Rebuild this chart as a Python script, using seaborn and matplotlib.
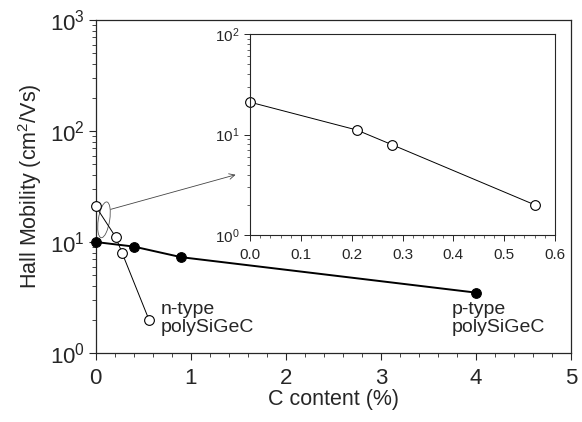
import seaborn as sns
import matplotlib.pyplot as plt
from matplotlib.patches import Ellipse
from matplotlib.ticker import MultipleLocator, LogLocator
import pandas as pd

# n-type and p-type polySiGeC, Hall mobility vs C content
n_carbon = [0.0, 0.21, 0.28, 0.56]
n_mobility = [21.0, 11.1, 7.9, 2.0]
p_carbon = [0.0, 0.4, 0.9, 4.0]
p_mobility = [10.0, 9.1, 7.3, 3.5]

n_df = pd.DataFrame({'C': n_carbon, 'mu': n_mobility})
p_df = pd.DataFrame({'C': p_carbon, 'mu': p_mobility})

sns.set_style('ticks')
plt.rcParams['font.family'] = ['Liberation Sans', 'DejaVu Sans']
plt.rcParams['mathtext.fontset'] = 'custom'
plt.rcParams['mathtext.rm'] = 'Liberation Sans'

fig = plt.figure(figsize=(5.82, 4.22), dpi=100)
ax = fig.add_axes([0.1644, 0.1635, 0.8167, 0.789])

sns.lineplot(data=p_df, x='C', y='mu', ax=ax, color='black', lw=1.4,
             marker='o', markersize=7, markerfacecolor='black',
             markeredgecolor='black', sort=False, clip_on=False, zorder=3)
sns.lineplot(data=n_df, x='C', y='mu', ax=ax, color='black', lw=0.7,
             marker='o', markersize=7, markerfacecolor='white',
             markeredgecolor='black', markeredgewidth=0.8, sort=False,
             clip_on=False, zorder=4)

ax.set_yscale('log')
ax.set_xlim(0, 5)
ax.set_ylim(1, 1000)
ax.xaxis.set_major_locator(MultipleLocator(1))
ax.xaxis.set_minor_locator(MultipleLocator(0.2))
ax.yaxis.set_minor_locator(LogLocator(subs=range(2, 10)))
ax.tick_params(which='major', labelsize=16, length=5, width=0.8)
ax.tick_params(which='minor', length=3, width=0.6)
ax.set_xlabel('C content (%)', fontsize=15.5, labelpad=0)
ax.set_ylabel('Hall Mobility (cm$^2$/Vs)', fontsize=15.5, labelpad=4)
for s in ax.spines.values():
    s.set_linewidth(0.9)
ax.tick_params(axis='x', pad=6)
ax.tick_params(axis='y', pad=3)

ax.text(0.68, 2.95, 'n-type\npolySiGeC', fontsize=14, va='top', ha='left',
        linespacing=1.1)
ax.text(3.75, 2.95, 'p-type\npolySiGeC', fontsize=14, va='top', ha='left',
        linespacing=1.1)

# ellipse marking the zoomed region and arrow into the inset
ax.add_patch(Ellipse((0.0175, 0.40), 0.024, 0.108, angle=-6,
                     transform=ax.transAxes, fill=False, lw=0.6,
                     edgecolor='#555555'))
ax.annotate('', xy=(1.5, 41), xytext=(0.13, 19.4),
            arrowprops=dict(arrowstyle='->', lw=0.6, color='#444444'))

# inset
axi = fig.add_axes([0.4296, 0.443, 0.524, 0.4763])
sns.lineplot(data=n_df, x='C', y='mu', ax=axi, color='black', lw=0.7,
             marker='o', markersize=7, markerfacecolor='white',
             markeredgecolor='black', markeredgewidth=0.8, sort=False,
             clip_on=False)
axi.set_yscale('log')
axi.set_xlim(0, 0.6)
axi.set_ylim(1, 100)
axi.xaxis.set_major_locator(MultipleLocator(0.1))
axi.xaxis.set_minor_locator(MultipleLocator(0.02))
axi.yaxis.set_minor_locator(LogLocator(subs=range(2, 10)))
axi.tick_params(which='major', labelsize=11, length=4, width=0.7)
axi.tick_params(which='minor', length=2, width=0.5)
axi.tick_params(axis='x', pad=5)
axi.set_xlabel('')
axi.set_ylabel('')
for s in axi.spines.values():
    s.set_linewidth(0.8)

fig.savefig('out.png', dpi=100)
